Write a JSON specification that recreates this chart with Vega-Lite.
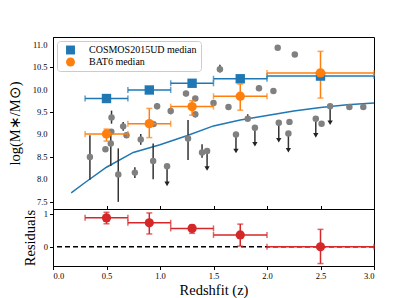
{
  "$schema": "https://vega.github.io/schema/vega-lite/v6.json",
  "padding": {"left": 6, "top": 36, "right": 5, "bottom": 2},
  "autosize": {"type": "pad"},
  "background": "white",
  "spacing": 0,
  "bounds": "flush",
  "config": {
    "font": "Liberation Serif",
    "view": {"stroke": "black", "strokeWidth": 1},
    "axis": {"grid": false, "domainColor": "black", "tickColor": "black", "labelColor": "black", "titleColor": "black", "labelFont": "Liberation Serif", "titleFont": "Liberation Serif", "labelFontSize": 8.5, "titleFontSize": 14.5, "titleFontWeight": "normal", "tickSize": 3.5, "labelPadding": 2, "domainWidth": 1},
    "legend": {"labelFont": "Liberation Serif", "labelFontSize": 10, "labelColor": "black", "fillColor": "white", "strokeColor": "#cccccc", "cornerRadius": 3, "padding": 4, "symbolOffset": 4.5, "labelOffset": 13.5, "rowPadding": 2, "symbolSize": 80, "symbolStrokeWidth": 0, "symbolOpacity": 1, "labelLimit": 300}
  },
  "datasets": {
    "yticks": [{"v": 7.5}, {"v": 8.0}, {"v": 8.5}, {"v": 9.0}, {"v": 9.5}, {"v": 10.0}, {"v": 10.5}, {"v": 11.0}],
    "curve": [
      {"z": 0.17, "m": 7.70}, {"z": 0.3, "m": 7.93}, {"z": 0.5, "m": 8.27}, {"z": 0.75, "m": 8.60},
      {"z": 1.0, "m": 8.77}, {"z": 1.25, "m": 8.97}, {"z": 1.5, "m": 9.19}, {"z": 1.75, "m": 9.32},
      {"z": 2.0, "m": 9.42}, {"z": 2.25, "m": 9.52}, {"z": 2.5, "m": 9.60}, {"z": 2.75, "m": 9.66}, {"z": 3.0, "m": 9.70}
    ],
    "grb": [
      {"z": 0.345, "m": 8.50, "lo": 7.99, "hi": 8.98},
      {"z": 0.49, "m": 8.67},
      {"z": 0.54, "m": 8.80, "lo": 8.30, "hi": 9.10},
      {"z": 0.547, "m": 9.38, "lo": 9.24, "hi": 9.53},
      {"z": 0.545, "m": 9.06},
      {"z": 0.61, "m": 8.11, "lo": 7.50, "hi": 8.69},
      {"z": 0.656, "m": 9.18, "lo": 9.08, "hi": 9.28},
      {"z": 0.687, "m": 8.98},
      {"z": 0.765, "m": 8.15, "lo": 8.03, "hi": 8.27},
      {"z": 0.82, "m": 8.89, "lo": 8.77, "hi": 9.01},
      {"z": 0.936, "m": 8.41, "lo": 8.00, "hi": 8.80},
      {"z": 0.94, "m": 9.23},
      {"z": 0.973, "m": 9.63, "lo": 9.56, "hi": 9.70},
      {"z": 1.066, "m": 8.29, "lim": 7.90},
      {"z": 1.10, "m": 9.52, "lo": 9.45, "hi": 9.60},
      {"z": 1.243, "m": 9.91, "lo": 9.85, "hi": 9.97},
      {"z": 1.262, "m": 8.91, "lo": 8.43, "hi": 9.32},
      {"z": 1.33, "m": 9.80},
      {"z": 1.33, "m": 9.45, "lo": 9.38, "hi": 9.50},
      {"z": 1.393, "m": 8.60, "lo": 8.48, "hi": 8.78},
      {"z": 1.44, "m": 8.63, "lim": 8.24},
      {"z": 1.50, "m": 9.70},
      {"z": 1.56, "m": 10.45, "lo": 10.38, "hi": 10.55},
      {"z": 1.64, "m": 9.61},
      {"z": 1.71, "m": 9.00, "lim": 8.63},
      {"z": 1.82, "m": 9.35, "lo": 9.30, "hi": 9.45},
      {"z": 1.887, "m": 9.15, "lim": 8.78},
      {"z": 1.925, "m": 10.03, "lo": 9.98, "hi": 10.10},
      {"z": 2.06, "m": 9.97},
      {"z": 2.10, "m": 10.93},
      {"z": 2.11, "m": 9.26, "lim": 8.87},
      {"z": 2.20, "m": 9.02, "lim": 8.65},
      {"z": 2.21, "m": 9.28},
      {"z": 2.26, "m": 10.78},
      {"z": 2.456, "m": 9.35, "lim": 8.98},
      {"z": 2.51, "m": 9.24},
      {"z": 2.59, "m": 9.63, "lim": 9.26},
      {"z": 2.77, "m": 9.61},
      {"z": 2.90, "m": 9.61}
    ],
    "med": [
      {"series": "COSMOS2015UD median", "z": 0.5, "m": 9.80, "xlo": 0.3, "xhi": 0.7},
      {"series": "COSMOS2015UD median", "z": 0.9, "m": 9.99, "xlo": 0.7, "xhi": 1.1},
      {"series": "COSMOS2015UD median", "z": 1.3, "m": 10.14, "xlo": 1.1, "xhi": 1.5},
      {"series": "COSMOS2015UD median", "z": 1.75, "m": 10.24, "xlo": 1.5, "xhi": 2.0},
      {"series": "COSMOS2015UD median", "z": 2.5, "m": 10.30, "xlo": 2.0, "xhi": 3.0},
      {"series": "BAT6 median", "z": 0.5, "m": 9.01, "xlo": 0.3, "xhi": 0.7, "ylo": 8.85, "yhi": 9.12},
      {"series": "BAT6 median", "z": 0.9, "m": 9.24, "xlo": 0.7, "xhi": 1.1, "ylo": 8.93, "yhi": 9.58},
      {"series": "BAT6 median", "z": 1.3, "m": 9.62, "xlo": 1.1, "xhi": 1.5, "ylo": 9.43, "yhi": 9.75},
      {"series": "BAT6 median", "z": 1.75, "m": 9.85, "xlo": 1.5, "xhi": 2.0, "ylo": 9.54, "yhi": 10.12},
      {"series": "BAT6 median", "z": 2.5, "m": 10.37, "xlo": 2.0, "xhi": 3.0, "ylo": 9.81, "yhi": 10.85}
    ],
    "res": [
      {"z": 0.5, "r": 0.88, "xlo": 0.3, "xhi": 0.7, "rlo": 0.70, "rhi": 1.05},
      {"z": 0.9, "r": 0.73, "xlo": 0.7, "xhi": 1.1, "rlo": 0.39, "rhi": 1.03},
      {"z": 1.3, "r": 0.56, "xlo": 1.1, "xhi": 1.5, "rlo": 0.41, "rhi": 0.66},
      {"z": 1.75, "r": 0.36, "xlo": 1.5, "xhi": 2.0, "rlo": 0.02, "rhi": 0.69},
      {"z": 2.5, "r": 0.0, "xlo": 2.0, "xhi": 3.0, "rlo": -0.51, "rhi": 0.53}
    ],
    "zero": [{"r": 0}]
  },
  "vconcat": [
    {
      "width": 321,
      "height": 172,
      "layer": [
        {
          "data": {"name": "curve"},
          "mark": {"type": "line", "color": "#1f77b4", "strokeWidth": 1.5},
          "encoding": {
            "x": {"field": "z", "type": "quantitative", "scale": {"domain": [0, 3], "nice": false}, "axis": {"values": [0, 0.5, 1, 1.5, 2, 2.5, 3], "labels": false, "title": null, "tickSize": -3.5}},
            "y": {"field": "m", "type": "quantitative", "scale": {"domain": [7.34, 11.17], "nice": false, "zero": false}, "axis": {"values": [7.5, 8, 8.5, 9, 9.5, 10, 10.5, 11], "labels": false, "title": "log(M∗/M⊙)", "titlePadding": 27}}
          }
        },
        {
          "data": {"name": "yticks"},
          "mark": {"type": "text", "align": "right", "baseline": "middle", "dx": -5.5, "font": "Liberation Serif", "fontSize": 8.5, "color": "black"},
          "encoding": {
            "x": {"datum": 0, "type": "quantitative"},
            "y": {"field": "v", "type": "quantitative"},
            "text": {"field": "v", "type": "quantitative", "format": ".1f"}
          }
        },
        {
          "data": {"name": "grb"},
          "transform": [{"filter": "datum.lo != null"}],
          "mark": {"type": "rule", "color": "#333333", "strokeWidth": 1.5},
          "encoding": {
            "x": {"field": "z", "type": "quantitative"},
            "y": {"field": "lo", "type": "quantitative"},
            "y2": {"field": "hi"}
          }
        },
        {
          "data": {"name": "grb"},
          "transform": [{"filter": "datum.lim != null"}],
          "mark": {"type": "rule", "color": "#333333", "strokeWidth": 1.5},
          "encoding": {
            "x": {"field": "z", "type": "quantitative"},
            "y": {"field": "m", "type": "quantitative"},
            "y2": {"field": "lim"}
          }
        },
        {
          "data": {"name": "grb"},
          "transform": [{"filter": "datum.lim != null"}],
          "mark": {"type": "point", "shape": "triangle-down", "filled": true, "color": "#222222", "size": 28, "opacity": 1},
          "encoding": {
            "x": {"field": "z", "type": "quantitative"},
            "y": {"field": "lim", "type": "quantitative"}
          }
        },
        {
          "data": {"name": "grb"},
          "mark": {"type": "circle", "color": "#808080", "size": 42, "opacity": 1},
          "encoding": {
            "x": {"field": "z", "type": "quantitative"},
            "y": {"field": "m", "type": "quantitative"}
          }
        },
        {
          "data": {"name": "med"},
          "transform": [{"filter": "datum.series == 'COSMOS2015UD median'"}],
          "layer": [
            {
              "mark": {"type": "rule", "strokeWidth": 1.5, "color": "#1f77b4"},
              "encoding": {
                "x": {"field": "xlo", "type": "quantitative"},
                "x2": {"field": "xhi"},
                "y": {"field": "m", "type": "quantitative"}
              }
            },
            {
              "mark": {"type": "tick", "orient": "vertical", "size": 6, "thickness": 1.5, "color": "#1f77b4"},
              "encoding": {
                "x": {"field": "xlo", "type": "quantitative"},
                "y": {"field": "m", "type": "quantitative"}
              }
            },
            {
              "mark": {"type": "tick", "orient": "vertical", "size": 6, "thickness": 1.5, "color": "#1f77b4"},
              "encoding": {
                "x": {"field": "xhi", "type": "quantitative"},
                "y": {"field": "m", "type": "quantitative"}
              }
            }
          ]
        },
        {
          "data": {"name": "med"},
          "transform": [{"filter": "datum.series == 'BAT6 median'"}],
          "layer": [
            {
              "mark": {"type": "rule", "strokeWidth": 1.5, "color": "#ff7f0e"},
              "encoding": {
                "x": {"field": "xlo", "type": "quantitative"},
                "x2": {"field": "xhi"},
                "y": {"field": "m", "type": "quantitative"}
              }
            },
            {
              "mark": {"type": "tick", "orient": "vertical", "size": 6, "thickness": 1.5, "color": "#ff7f0e"},
              "encoding": {
                "x": {"field": "xlo", "type": "quantitative"},
                "y": {"field": "m", "type": "quantitative"}
              }
            },
            {
              "mark": {"type": "tick", "orient": "vertical", "size": 6, "thickness": 1.5, "color": "#ff7f0e"},
              "encoding": {
                "x": {"field": "xhi", "type": "quantitative"},
                "y": {"field": "m", "type": "quantitative"}
              }
            },
            {
              "mark": {"type": "rule", "strokeWidth": 1.5, "color": "#ff7f0e"},
              "encoding": {
                "x": {"field": "z", "type": "quantitative"},
                "y": {"field": "ylo", "type": "quantitative"},
                "y2": {"field": "yhi"}
              }
            },
            {
              "mark": {"type": "tick", "orient": "horizontal", "size": 6, "thickness": 1.5, "color": "#ff7f0e"},
              "encoding": {
                "x": {"field": "z", "type": "quantitative"},
                "y": {"field": "ylo", "type": "quantitative"}
              }
            },
            {
              "mark": {"type": "tick", "orient": "horizontal", "size": 6, "thickness": 1.5, "color": "#ff7f0e"},
              "encoding": {
                "x": {"field": "z", "type": "quantitative"},
                "y": {"field": "yhi", "type": "quantitative"}
              }
            }
          ]
        },
        {
          "data": {"name": "med"},
          "mark": {"type": "point", "filled": true, "size": 88, "opacity": 1},
          "encoding": {
            "x": {"field": "z", "type": "quantitative"},
            "y": {"field": "m", "type": "quantitative"},
            "color": {"field": "series", "type": "nominal", "scale": {"domain": ["COSMOS2015UD median", "BAT6 median"], "range": ["#1f77b4", "#ff7f0e"]}, "legend": {"title": null, "orient": "top-left", "offset": 4}},
            "shape": {"field": "series", "type": "nominal", "scale": {"domain": ["COSMOS2015UD median", "BAT6 median"], "range": ["square", "circle"]}, "legend": {"title": null, "orient": "top-left", "offset": 4}}
          }
        }
      ]
    },
    {
      "width": 321,
      "height": 57,
      "layer": [
        {
          "data": {"name": "zero"},
          "mark": {"type": "rule", "color": "black", "strokeDash": [5, 3], "strokeWidth": 1.5},
          "encoding": {
            "y": {"field": "r", "type": "quantitative", "scale": {"domain": [-0.585, 1.15], "nice": false, "zero": false}, "axis": {"values": [0, 1], "format": "d", "title": "Residuals", "titlePadding": 6, "labelOverlap": false}}
          }
        },
        {
          "data": {"name": "res"},
          "mark": {"type": "rule", "strokeWidth": 1.5, "color": "#d62728"},
          "encoding": {
            "x": {"field": "xlo", "type": "quantitative", "scale": {"domain": [0, 3], "nice": false}, "axis": {"values": [0, 0.5, 1, 1.5, 2, 2.5, 3], "format": ".1f", "title": "Redshfit (z)", "titlePadding": 3}},
            "x2": {"field": "xhi"},
            "y": {"field": "r", "type": "quantitative"}
          }
        },
        {
          "data": {"name": "res"},
          "mark": {"type": "tick", "orient": "vertical", "size": 6, "thickness": 1.5, "color": "#d62728"},
          "encoding": {
            "x": {"field": "xlo", "type": "quantitative"},
            "y": {"field": "r", "type": "quantitative"}
          }
        },
        {
          "data": {"name": "res"},
          "mark": {"type": "tick", "orient": "vertical", "size": 6, "thickness": 1.5, "color": "#d62728"},
          "encoding": {
            "x": {"field": "xhi", "type": "quantitative"},
            "y": {"field": "r", "type": "quantitative"}
          }
        },
        {
          "data": {"name": "res"},
          "mark": {"type": "rule", "strokeWidth": 1.5, "color": "#d62728"},
          "encoding": {
            "x": {"field": "z", "type": "quantitative"},
            "y": {"field": "rlo", "type": "quantitative"},
            "y2": {"field": "rhi"}
          }
        },
        {
          "data": {"name": "res"},
          "mark": {"type": "tick", "orient": "horizontal", "size": 6, "thickness": 1.5, "color": "#d62728"},
          "encoding": {
            "x": {"field": "z", "type": "quantitative"},
            "y": {"field": "rlo", "type": "quantitative"}
          }
        },
        {
          "data": {"name": "res"},
          "mark": {"type": "tick", "orient": "horizontal", "size": 6, "thickness": 1.5, "color": "#d62728"},
          "encoding": {
            "x": {"field": "z", "type": "quantitative"},
            "y": {"field": "rhi", "type": "quantitative"}
          }
        },
        {
          "data": {"name": "res"},
          "mark": {"type": "circle", "size": 85, "color": "#d62728", "opacity": 1},
          "encoding": {
            "x": {"field": "z", "type": "quantitative"},
            "y": {"field": "r", "type": "quantitative"}
          }
        }
      ]
    }
  ]
}
